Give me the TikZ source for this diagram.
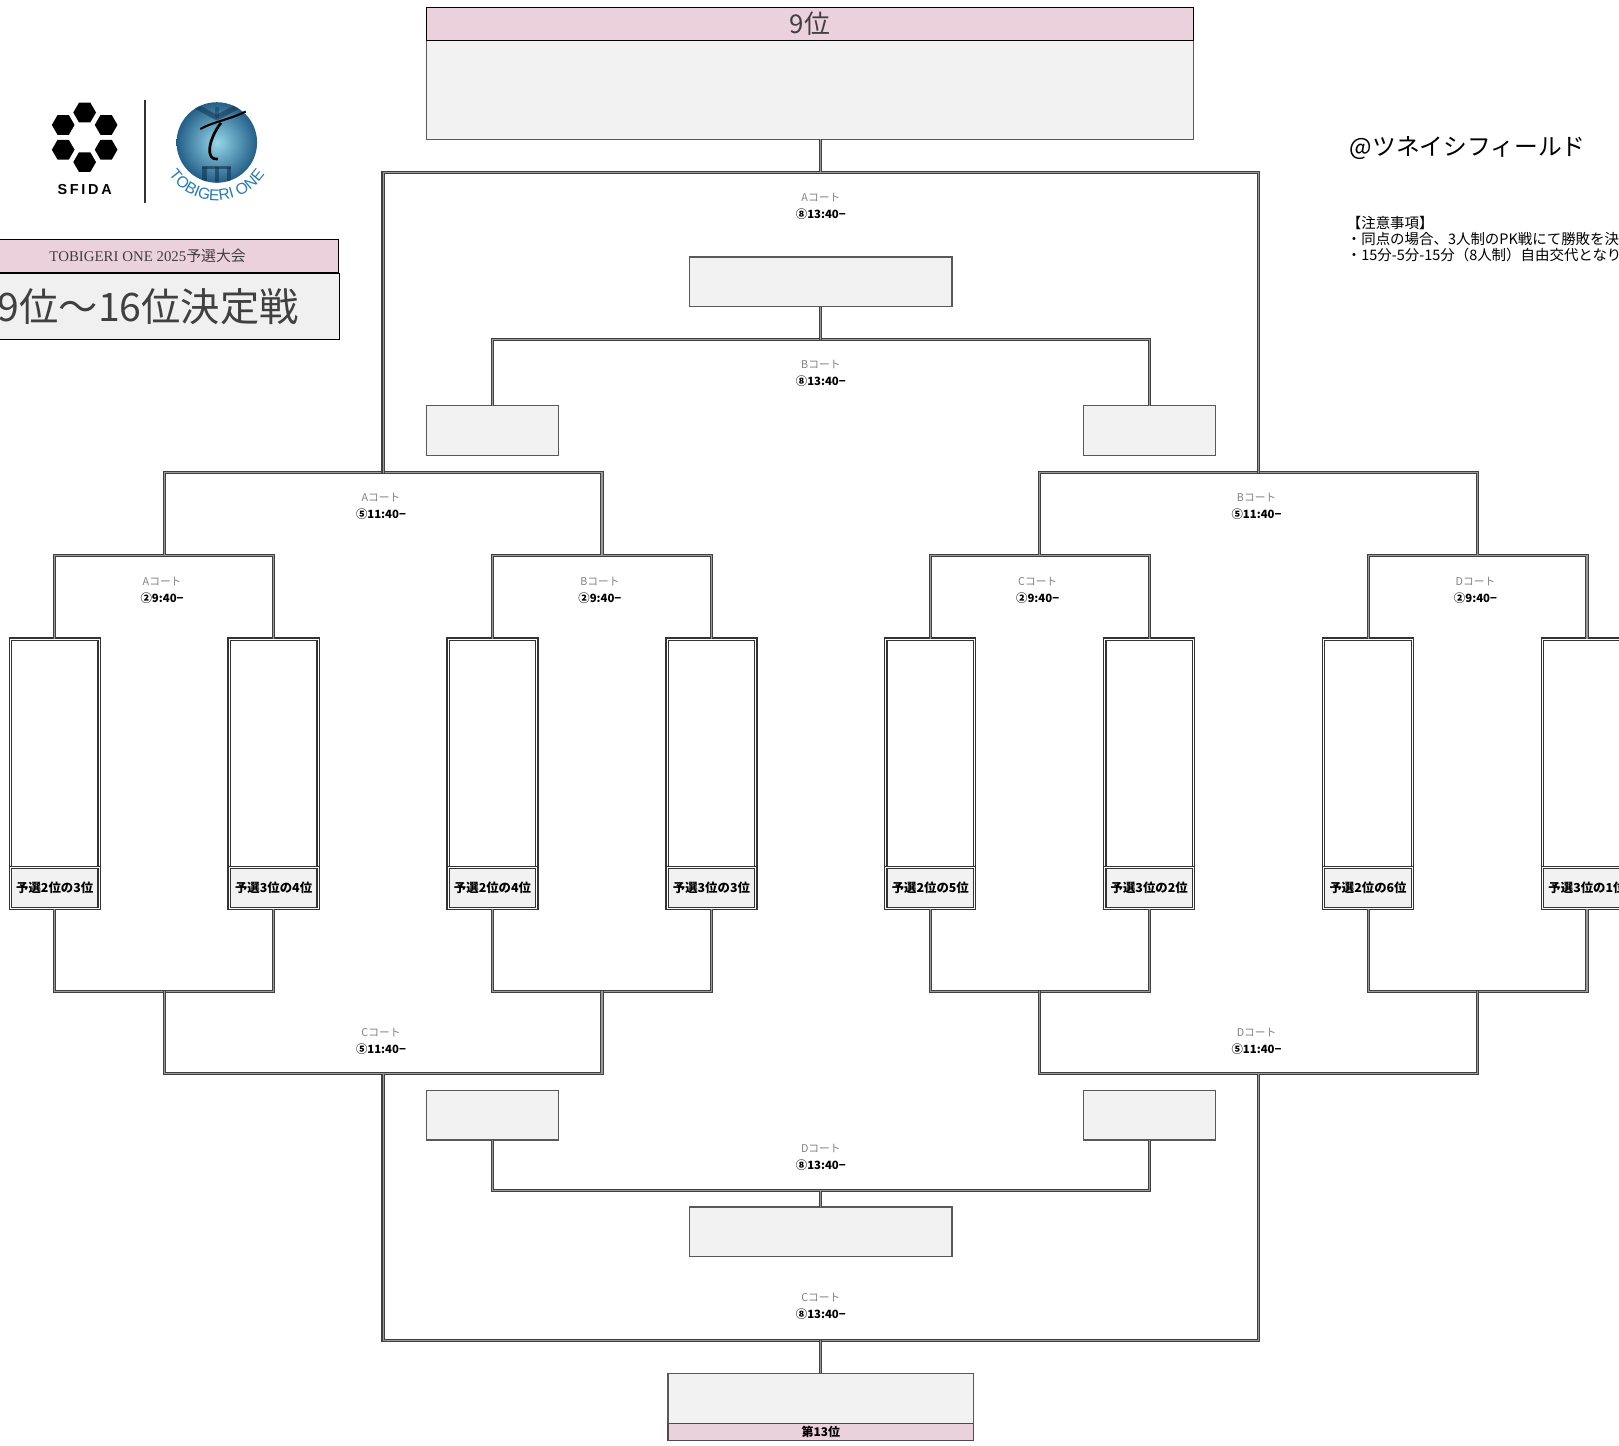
\documentclass[tikz,border=0pt]{standalone}
\usepackage{fontspec}
\setmainfont{Liberation Serif}
\setsansfont{Liberation Sans}
\newfontfamily\jp{Noto Sans CJK JP}
\usetikzlibrary{calc,shapes.geometric,decorations.text}

\definecolor{hdrpink}{RGB}{235,209,220}
\definecolor{boxgray}{RGB}{242,242,242}
\definecolor{titlegray}{RGB}{240,240,240}
\definecolor{txtgray}{RGB}{64,64,64}
\definecolor{tobiblue}{RGB}{38,122,178}
\definecolor{ballin}{RGB}{150,215,235}
\definecolor{ballout}{RGB}{35,95,135}
\definecolor{navy}{RGB}{20,50,80}

\newcommand\px{0.5pt}
\newcommand\fsz[2]{\fontsize{#1}{#2}\selectfont}

\tikzset{
  bline/.style={draw=black!75, line width=0.5pt, double=black!40, double distance=0.55pt},
  teambox/.style={draw=black!80, line width=0.6pt, double=white, double distance=0.5pt, fill=white,
    inner sep=0pt, outer sep=0pt, minimum width=86*\px, minimum height=261*\px, anchor=north},
  teamlab/.style={draw=black!80, line width=0.6pt, double=white, double distance=0.5pt, fill=boxgray,
    inner sep=0pt, outer sep=0pt, minimum width=86*\px, minimum height=40*\px, anchor=south,
    font=\jp\bfseries\fsz{6}{7}},
  winbox/.style={draw=black!65, line width=0.6pt, fill=boxgray, inner sep=0pt, outer sep=0pt, anchor=north west},
  hdrbox/.style={draw=black, line width=0.6pt, fill=hdrpink, inner sep=0pt, outer sep=0pt, anchor=north west},
  court/.style={text=black!50, font=\jp\fsz{5.2}{6}},
  kick/.style={text=black, font=\jp\bfseries\fsz{5.5}{6}},
  hexa/.style={regular polygon, regular polygon sides=6, fill=black, inner sep=0pt, minimum size=22*\px},
}

\begin{document}
\begin{tikzpicture}[x=0.5pt, y=-0.5pt]
  \useasboundingbox (0,0) rectangle (1568,1400.4);

  % logos
  \coordinate (sf) at (82,133);
  \foreach \a in {30,90,...,330}
    \node[hexa] (hx\a) at ($(sf)+(\a:24)$) {};
  \node[font=\sffamily\bfseries\fsz{7}{7}] (sfida) at (82,184)
    {S\hspace{1.3pt}F\hspace{1.3pt}I\hspace{1.3pt}D\hspace{1.3pt}A};
  \draw[black!80, line width=0.6pt] (140.5,97) -- (140.5,197);
  \node[circle, minimum size=78*\px, inner sep=0pt, inner color=ballin, outer color=ballout] (ball) at (210,138) {};
  \begin{scope}
    \clip (ball.center) circle (39);
    \draw[navy, line width=2.5pt, opacity=0.55] (184,100) -- (210,114) -- (236,100);
    \draw[navy, line width=2pt, opacity=0.45] (210,114) -- (210,104);
    \foreach \dx in {-12,0,12}
      \draw[navy, line width=2pt, opacity=0.6] (210+\dx,162) -- (210+\dx,180);
    \draw[navy, line width=1.5pt, opacity=0.6] (196,162) -- (224,162);
  \end{scope}
  \draw[black, line width=1pt] (194,125) .. controls (206,118) and (222,116) .. (238,108);
  \draw[black, line width=1.3pt] (214,119) .. controls (201,136) and (199,156) .. (211,154);
  \path[decorate, decoration={text along path, text align=center,
      text={|\sffamily\fsz{7.6}{8}\color{tobiblue}|TOBIGERI ONE}}]
    (ball.center) ++(150:56) arc[start angle=150, end angle=30, radius=56];

  % title
  \node[hdrbox, minimum width=370*\px, minimum height=32*\px, text=txtgray, font=\fsz{7.2}{8}] (ttl)
    at (-42,232) {TOBIGERI ONE 2025{\jp 予選大会}};
  \node[draw=black, line width=0.6pt, fill=titlegray, inner sep=0pt, anchor=north west,
    minimum width=370*\px, minimum height=64*\px, text=txtgray, font=\jp\fsz{19}{20}] (ttlmain)
    at (-42,264) {9位〜16位決定戦};

  % venue and notes
  \node[anchor=west, inner sep=0pt, font=\jp\fsz{11.5}{12}] (venue) at (1307,143) {@ツネイシフィールド};
  \node[anchor=north west, align=left, inner sep=0pt, font=\jp\fsz{7}{7.75}] (notes) at (1304,209)
    {【注意事項】\\・同点の場合、3人制のPK戦にて勝敗を決定\\・15分-5分-15分（8人制）自由交代となりま};

  % result boxes
  \node[winbox, minimum width=743*\px, minimum height=128*\px] (top) at (413,7) {};
  \node[hdrbox, minimum width=743*\px, minimum height=32*\px, text=txtgray, font=\jp\fsz{12.5}{13}] (toph)
    at (413,7) {9位};
  \node[winbox, minimum width=254*\px, minimum height=48*\px] (w11) at (668,249) {};
  \node[winbox, minimum width=128*\px, minimum height=48*\px] (sA) at (413,393) {};
  \node[winbox, minimum width=128*\px, minimum height=48*\px] (sB) at (1049,393) {};
  \node[winbox, minimum width=128*\px, minimum height=48*\px] (sC) at (413,1056) {};
  \node[winbox, minimum width=128*\px, minimum height=48*\px] (sD) at (1049,1056) {};
  \node[winbox, minimum width=254*\px, minimum height=48*\px] (w15) at (668,1169) {};
  \node[winbox, minimum width=296*\px, minimum height=65*\px] (bot) at (647,1330) {};
  \node[hdrbox, draw=black!70, minimum width=296*\px, minimum height=16*\px, font=\jp\bfseries\fsz{5.8}{6}] (both)
    at (647,1379) {第13位};

  % teams
  \foreach \i/\cx/\lab in {1/53/予選2位の3位, 2/265/予選3位の4位, 3/477/予選2位の4位, 4/689/予選3位の3位,
      5/901/予選2位の5位, 6/1113/予選3位の2位, 7/1325/予選2位の6位, 8/1537/予選3位の1位} {
    \node[teambox] (t\i) at (\cx,619) {};
    \node[teamlab] (l\i) at (\cx,880) {\lab};
  }

  % joints
  \coordinate (q1) at (159,538);
  \coordinate (q2) at (583,538);
  \coordinate (q3) at (1007,538);
  \coordinate (q4) at (1431,538);
  \coordinate (h1) at (371,458);
  \coordinate (h2) at (1219,458);
  \coordinate (o1) at (795,167);
  \coordinate (i1) at (795,329);
  \coordinate (r1) at (159,960);
  \coordinate (r2) at (583,960);
  \coordinate (r3) at (1007,960);
  \coordinate (r4) at (1431,960);
  \coordinate (g1) at (371,1040);
  \coordinate (g2) at (1219,1040);
  \coordinate (b1) at (795,1298);
  \coordinate (k1) at (795,1153);

  % brackets
  \foreach \a/\b/\q in {1/2/1, 3/4/2, 5/6/3, 7/8/4} {
    \draw[bline] (t\a.north) |- (q\q) -| (t\b.north);
    \draw[bline] (l\a.south) |- (r\q) -| (l\b.south);
  }
  \draw[bline] (q1) |- (h1) -| (q2);
  \draw[bline] (q3) |- (h2) -| (q4);
  \draw[bline] (h1) |- (o1) -| (h2);
  \draw[bline] (o1) -- (o1 |- top.south);
  \draw[bline] (sA.north) |- (i1) -| (sB.north);
  \draw[bline] (i1) -- (w11.south);
  \draw[bline] (r1) |- (g1) -| (r2);
  \draw[bline] (r3) |- (g2) -| (r4);
  \draw[bline] (g1) |- (b1) -| (g2);
  \draw[bline] (b1) -- (bot.north);
  \draw[bline] (sC.south) |- (k1) -| (sD.south);
  \draw[bline] (k1) -- (w15.north);

  % match labels
  \foreach \n/\x/\y/\c/\t in {fA/795/191/A/⑧13:40−, fB/795/353/B/⑧13:40−,
      qA/369/482/A/⑤11:40−, qB/1217/482/B/⑤11:40−,
      pA/157/563/A/②9:40−, pB/581/563/B/②9:40−, pC/1005/563/C/②9:40−, pD/1429/563/D/②9:40−,
      lC/369/1000/C/⑤11:40−, lD/1217/1000/D/⑤11:40−,
      mD/795/1112/D/⑧13:40−, mC/795/1257/C/⑧13:40−} {
    \node[court] (c\n) at (\x,\y) {\c コート};
    \node[kick] (k\n) at (\x,\y+16) {\t};
  }
\end{tikzpicture}
\end{document}
